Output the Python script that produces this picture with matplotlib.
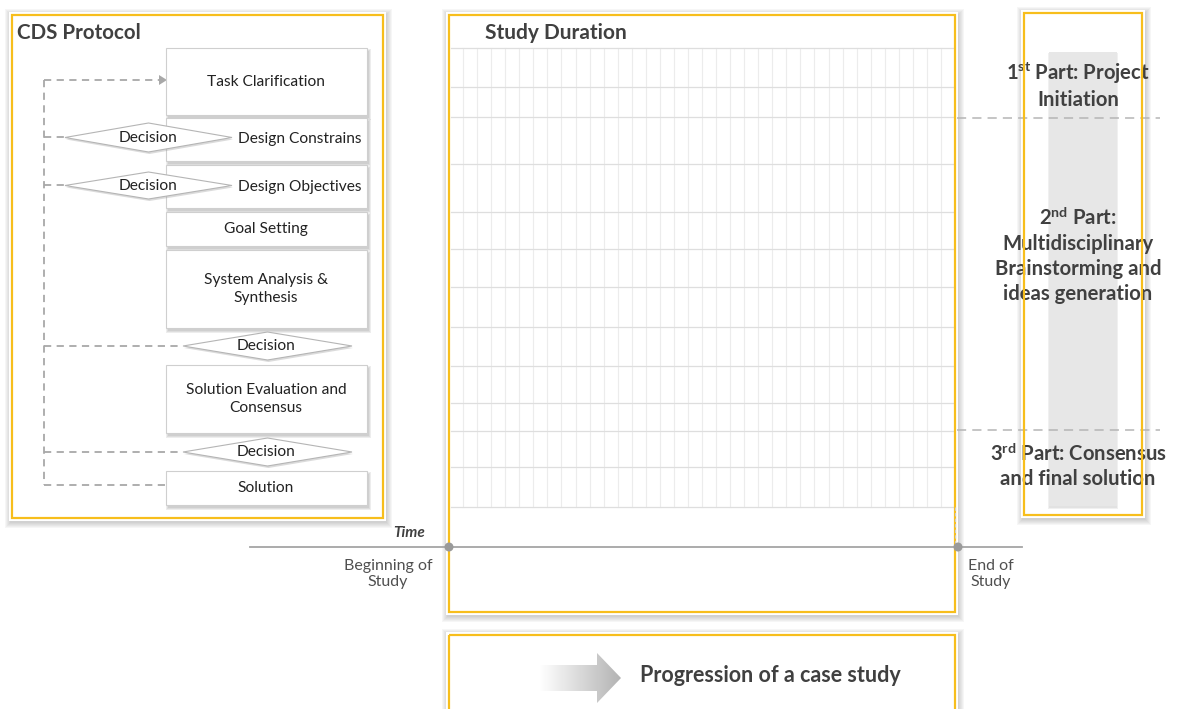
import matplotlib
matplotlib.use('Agg')
import numpy as np
import matplotlib.pyplot as plt
from matplotlib.patches import Rectangle, Polygon, Circle
from matplotlib.colors import LinearSegmentedColormap

plt.rcParams['font.family'] = ['Lato', 'DejaVu Sans']
plt.rcParams['mathtext.fontset'] = 'custom'
plt.rcParams['mathtext.rm'] = 'Lato'
plt.rcParams['mathtext.bf'] = 'Lato:bold'

# ---- content ----
protocol_title = "CDS Protocol"
duration_title = "Study Duration"
step_labels = ["Task Clarification", "Design Constrains", "Design Objectives",
               "Goal Setting", "System Analysis &\nSynthesis",
               "Solution Evaluation and\nConsensus", "Solution"]
decision_label = "Decision"
part_labels = ["1$^{\\mathbf{st}}$ Part: Project\nInitiation",
               "2$^{\\mathbf{nd}}$ Part:\nMultidisciplinary\nBrainstorming and\nideas generation",
               "3$^{\\mathbf{rd}}$ Part: Consensus\nand final solution"]
time_label = "Time"
start_label = "Beginning of\nStudy"
end_label = "End of\nStudy"
progress_label = "Progression of a case study"
n_cols = 36
row_lines = [48, 87, 117, 164, 212, 249, 287, 327, 366, 403, 431, 467, 507]

# ---- layout (pixels) ----
step_boxes = [(166, 48, 367, 115), (166, 118, 367, 161), (166, 165, 367, 208),
              (166, 212, 367, 246), (166, 250, 367, 328), (166, 365, 367, 433),
              (166, 471, 367, 505)]
step_text_x = [266, 300, 300, 266, 266, 266, 266]
diamonds = [(65, 232, 123, 152), (65, 232, 172, 199),
            (183, 352, 332, 360), (183, 352, 438, 466)]
loop_y = [80, 137, 185, 346, 452, 485]
loop_end_x = [166, 65, 65, 183, 183, 166]
part_y = [85, 255, 466]
part_spacing = [1.2, 1.3, 1.25]
split_y = [118, 430]

YEL = '#f7be1c'
TXT = '#404040'
GRID = '#dedede'
DASH = '#a8a8a8'
PX = 0.72  # points per pixel

fig = plt.figure(figsize=(11.79, 7.09), dpi=100)
ax = fig.add_axes([0, 0, 1, 1])


def shadow(x0, y0, x1, y1, spread=6, dx=1, dy=2, alpha=0.05, z=1):
    for i in range(spread):
        ax.add_patch(Rectangle((x0 - i + dx, y0 - i + dy), x1 - x0 + 2 * i, y1 - y0 + 2 * i,
                               fc='#707070', ec='none', alpha=alpha, zorder=z))


def panel(x0, y0, x1, y1):
    shadow(x0 - 3, y0 - 3, x1 + 3, y1 + 3, spread=6, alpha=0.06, z=1)
    ax.add_patch(Rectangle((x0 - 3, y0 - 3), x1 - x0 + 6, y1 - y0 + 6, fc='white', ec='none', zorder=2))
    ax.add_patch(Rectangle((x0, y0), x1 - x0, y1 - y0, fc='none', ec=YEL, lw=2.2 * PX, zorder=8))


# ---- left panel: CDS protocol ----
panel(12, 15, 383, 518)
ax.text(17, 33, protocol_title, fontsize=14.8, fontweight='bold', color=TXT, va='center', ha='left', zorder=9)

for (x0, y0, x1, y1), lab, tx in zip(step_boxes, step_labels, step_text_x):
    shadow(x0, y0, x1, y1, spread=3, dx=2, dy=3, alpha=0.12, z=3)
    ax.add_patch(Rectangle((x0, y0), x1 - x0, y1 - y0, fc='white', ec='#cfcfcf', lw=0.8, zorder=4))
    ax.text(tx, (y0 + y1) / 2, lab, fontsize=11.2, color='#222222', ha='center', va='center',
            linespacing=1.4, zorder=7)

for x0, x1, y0, y1 in diamonds:
    xm, ym = (x0 + x1) / 2, (y0 + y1) / 2
    pts = [(x0, ym), (xm, y0), (x1, ym), (xm, y1)]
    ax.add_patch(Polygon([(px + 1, py + 2) for px, py in pts], fc='#9a9a9a', ec='none', alpha=0.35, zorder=5))
    ax.add_patch(Polygon(pts, fc='white', ec='#b5b5b5', lw=0.8, zorder=6))
    ax.text(xm - (1 if x0 > 100 else 0), ym, decision_label, fontsize=11.2, color='#222222',
            ha='center', va='center', zorder=7)

# dashed feedback loop
ax.plot([44, 44], [loop_y[0], loop_y[-1]], color=DASH, lw=1.3, ls=(0, (4, 3)), zorder=3)
for y, xe in zip(loop_y, loop_end_x):
    end = xe - 6 if y == loop_y[0] else xe
    ax.plot([44, end], [y, y], color=DASH, lw=1.3, ls=(0, (4, 3)), zorder=3)
ax.add_patch(Polygon([(159, 75), (167, 80), (159, 85)], fc=DASH, ec='none', zorder=3))

# ---- middle panel: study duration grid ----
panel(449, 15, 955, 612)
ax.text(485, 33, duration_title, fontsize=15, fontweight='bold', color=TXT, va='center', ha='left', zorder=9)
col_x = np.linspace(449, 955, n_cols + 1)
for x in col_x[1:-1]:
    ax.plot([x, x], [row_lines[0], row_lines[-1]], color='#ececec', lw=0.8, zorder=3)
for y in row_lines:
    ax.plot([451, 953], [y, y], color=GRID, lw=0.9, zorder=3)

# ---- right panel: study parts ----
shadow(1021, 10, 1145, 518, spread=6, alpha=0.06, z=1)
ax.add_patch(Rectangle((1021, 10), 124, 508, fc='white', ec='none', zorder=2))
shadow(1049, 52, 1117, 506, spread=2, dx=0, dy=2, alpha=0.1, z=2)
ax.add_patch(Rectangle((1049, 52), 68, 454, fc='#e7e7e7', ec='none', zorder=3))
ax.add_patch(Rectangle((1024, 13), 118, 502, fc='none', ec=YEL, lw=2.2 * PX, zorder=10))
for lab, y, ls in zip(part_labels, part_y, part_spacing):
    ax.text(1078, y, lab, fontsize=14.6, fontweight='bold', color=TXT, ha='center', va='center',
            linespacing=ls, zorder=9)
for y in split_y:
    ax.plot([957, 1160], [y, y], color='#b5b5b5', lw=1.1, ls=(0, (6, 4)), zorder=4)

# ---- time axis ----
ax.plot([250, 1022], [547, 547], color='#a5a5a5', lw=1.3, zorder=9)
for x in (449, 958):
    ax.add_patch(Circle((x, 547), 4.5, fc='#9a9a9a', ec='none', zorder=11))
ax.plot([955, 955], [507, 547], color='#cccccc', lw=0.8, ls=(0, (3, 2)), zorder=9)
ax.text(425, 533, time_label, fontsize=11, fontweight='bold', style='italic', color=TXT,
        ha='right', va='center', zorder=9)
ax.text(388, 574, start_label, fontsize=11.5, color='#505050', ha='center', va='center',
        linespacing=1.15, zorder=9)
ax.text(991, 574, end_label, fontsize=11.5, color='#505050', ha='center', va='center',
        linespacing=1.15, zorder=9)

# ---- bottom panel: progression ----
panel(449, 635, 955, 725)
arrow_pts = [(540, 665), (597, 665), (597, 653), (621, 678), (597, 703), (597, 691), (540, 691)]
arrow = Polygon(arrow_pts, fc='none', ec='none', zorder=5)
ax.add_patch(arrow)
cmap = LinearSegmentedColormap.from_list('fade', ['#ffffff', '#b3b3b3'])
grad = ax.imshow(np.linspace(0, 1, 256)[None, :], cmap=cmap, extent=(540, 621, 703, 653),
                 aspect='auto', zorder=5)
grad.set_clip_path(arrow)
ax.text(640, 675, progress_label, fontsize=15.5, fontweight='bold', color=TXT, ha='left', va='center', zorder=9)

ax.set_xlim(0, 1179)
ax.set_ylim(709, 0)
ax.axis('off')
fig.savefig('out.png', dpi=100)
